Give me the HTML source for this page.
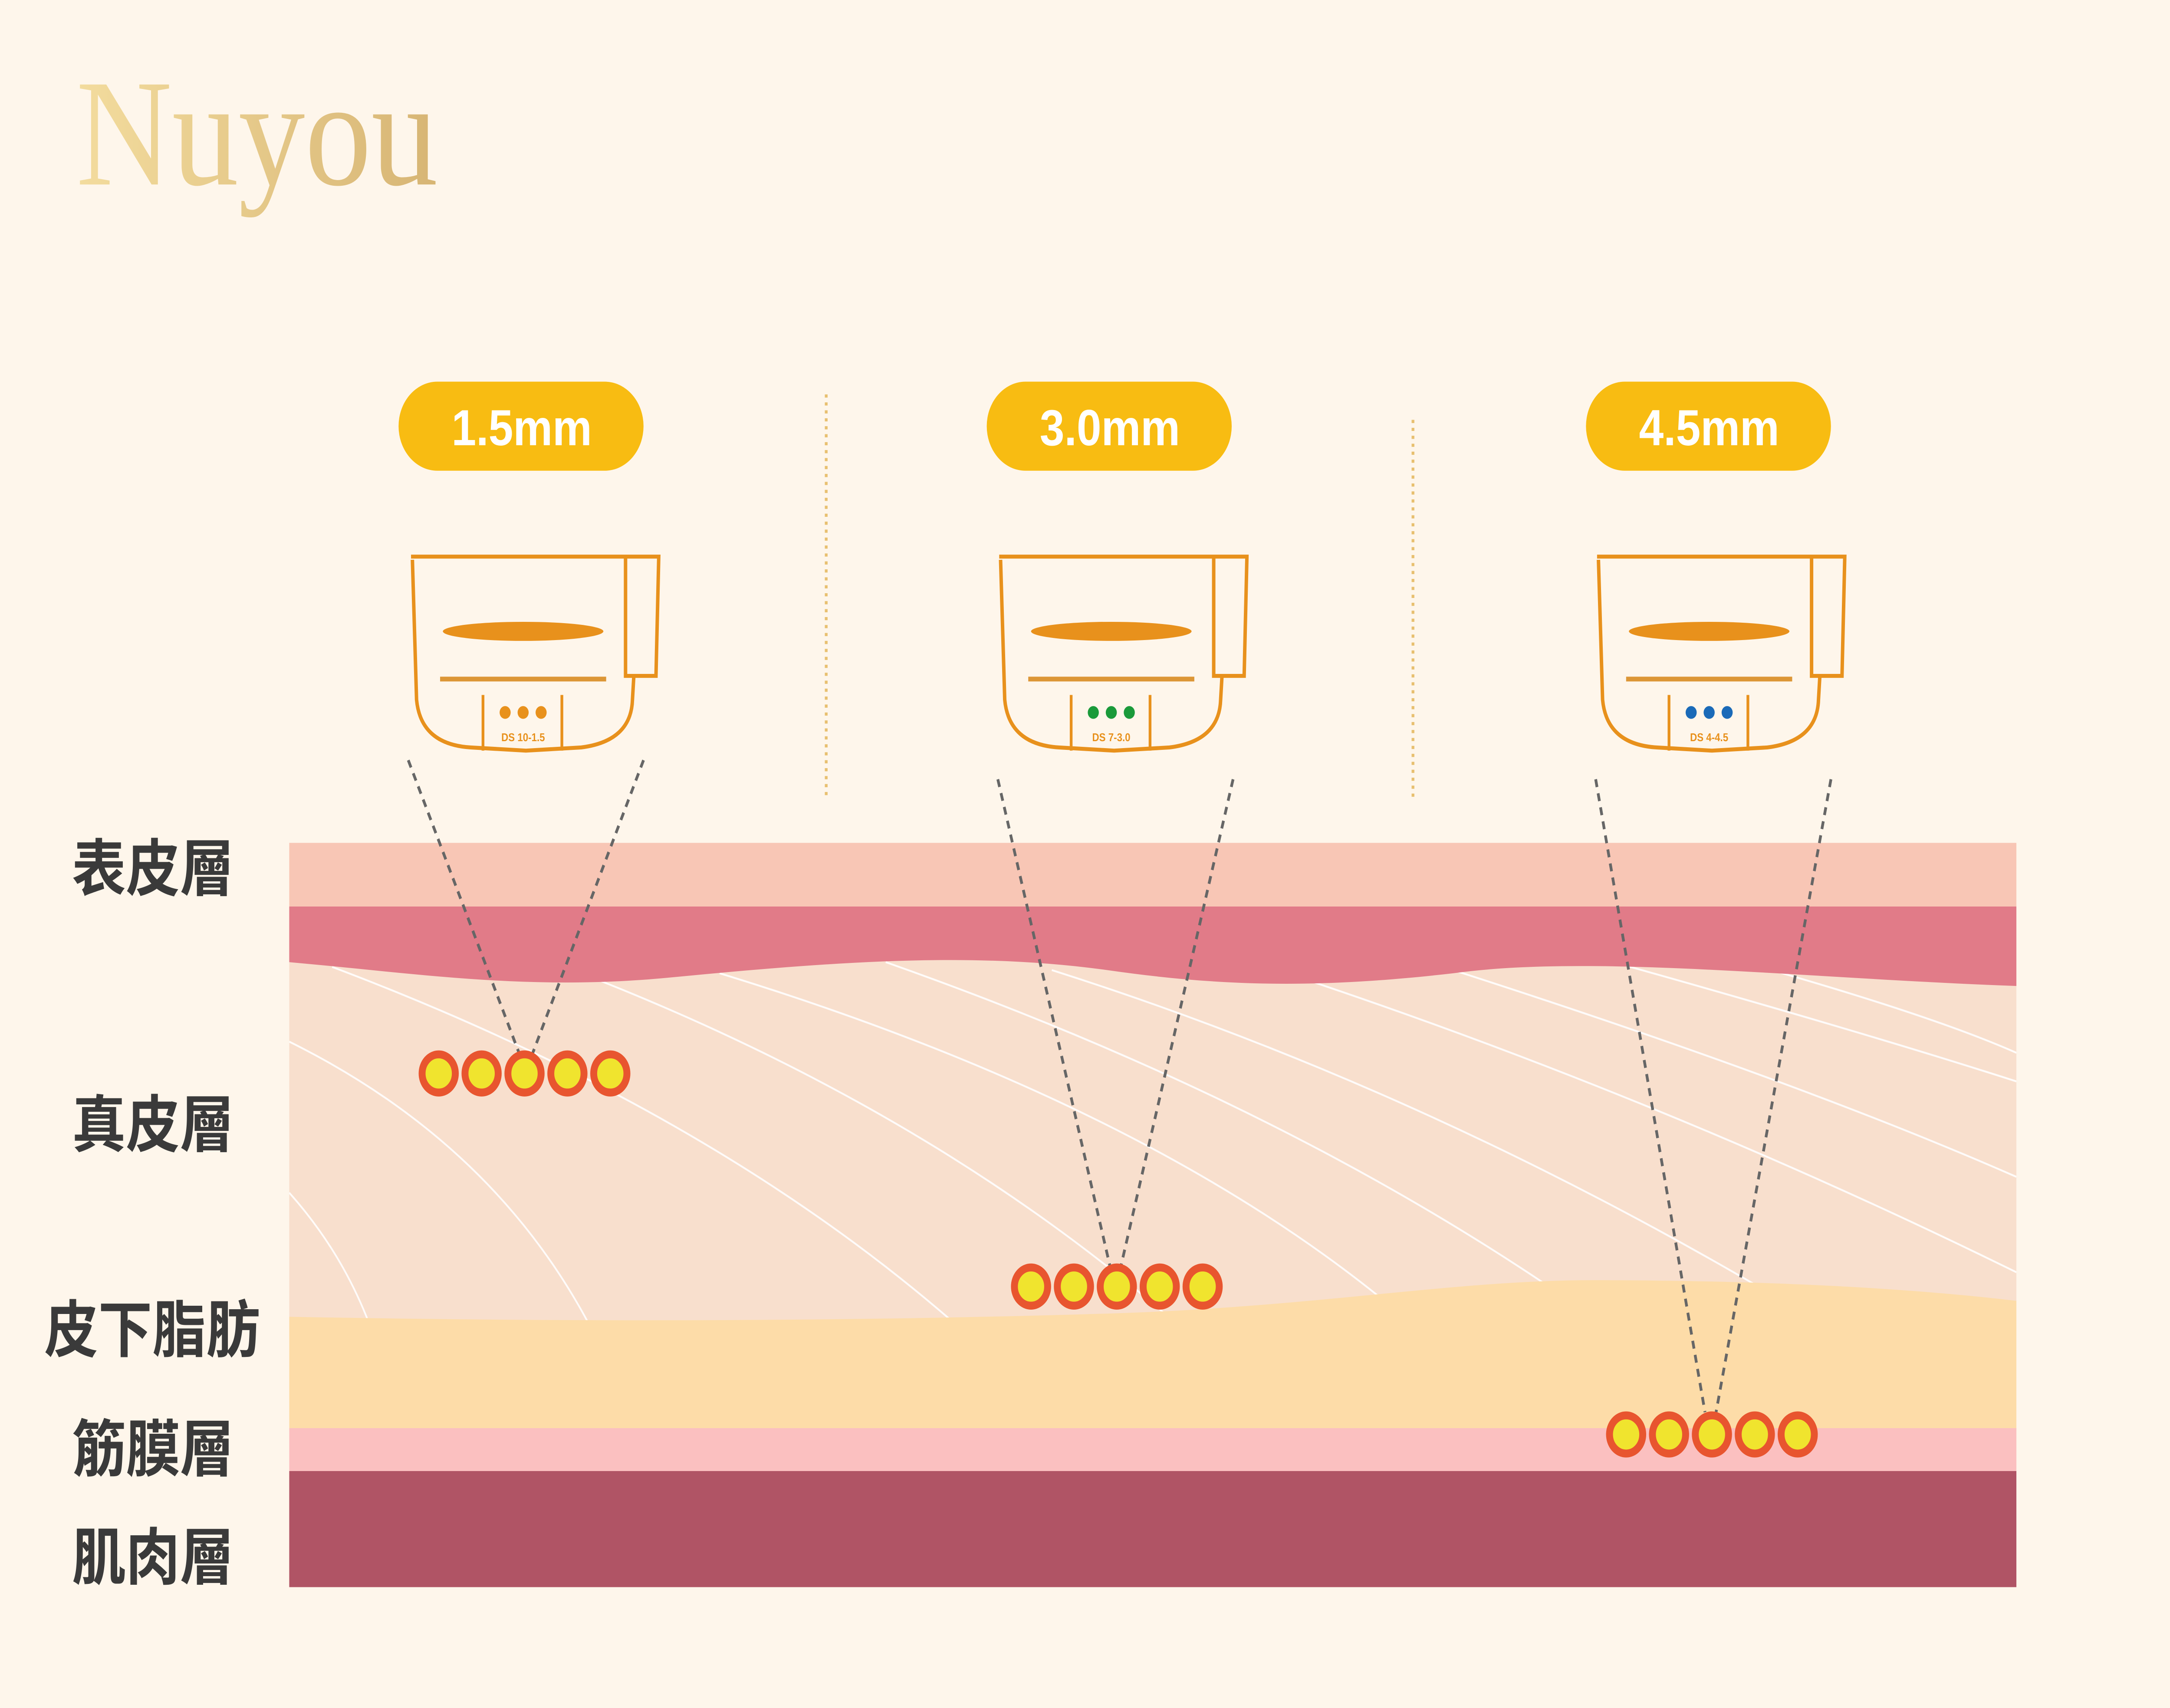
<!DOCTYPE html>
<html><head><meta charset="utf-8"><style>
html,body{margin:0;padding:0;background:#fef6eb;width:100%;height:100%;overflow:hidden}
svg{display:block;position:fixed;left:0;top:0;width:100vw;height:100vh}
</style></head>
<body>
<svg viewBox="0 0 1568 1074" preserveAspectRatio="none" xmlns="http://www.w3.org/2000/svg">
<defs>
<linearGradient id="g" x1="0" x2="1"><stop offset="0" stop-color="#f3dc9e"/><stop offset="1" stop-color="#d7b574"/></linearGradient>
<clipPath id="derm"><rect x="209" y="600" width="1248" height="240"/></clipPath>
<g id="dev" fill="none" stroke="#e8911c" stroke-width="2.5">
<path d="M297,350 H476 L474,425 H452 V350"/>
<path d="M298,352 L301,440 Q304,468 340,470 L380,472 L420,470 Q456,466 457,440 L458,425"/>
<ellipse cx="378" cy="397" rx="58" ry="6" fill="#e8911c" stroke="none"/>
<line x1="318" y1="427" x2="438" y2="427" stroke="#dc9636" stroke-width="3"/>
<line x1="349" y1="437" x2="349" y2="472" stroke-width="2"/>
<line x1="406" y1="437" x2="406" y2="472" stroke-width="2"/>
</g>
</defs>
<rect width="1568" height="1074" fill="#fef6eb"/>
<text x="55" y="116" font-family="Liberation Serif, serif" font-size="96" fill="url(#g)">Nuyou</text>
<g font-family="Liberation Sans, sans-serif" font-weight="bold" font-size="32" fill="#fff" text-anchor="middle">
<rect x="288" y="240" width="177" height="56" rx="28" fill="#f8bc12"/><text x="377" y="280">1.5mm</text>
<rect x="713" y="240" width="177" height="56" rx="28" fill="#f8bc12"/><text x="802" y="280">3.0mm</text>
<rect x="1146" y="240" width="177" height="56" rx="28" fill="#f8bc12"/><text x="1235" y="280">4.5mm</text>
</g>
<line x1="597" y1="248" x2="597" y2="502" stroke="#e8c070" stroke-width="2" stroke-dasharray="2 3"/>
<line x1="1021" y1="264" x2="1021" y2="502" stroke="#e8c070" stroke-width="2" stroke-dasharray="2 3"/>
<use href="#dev"/>
<use href="#dev" transform="translate(425,0)"/>
<use href="#dev" transform="translate(857,0)"/>
<g font-family="Liberation Sans, sans-serif" font-size="7" font-weight="bold" fill="#e8911c" text-anchor="middle">
<circle cx="365" cy="448" r="4" fill="#e8911c"/><circle cx="378" cy="448" r="4" fill="#e8911c"/><circle cx="391" cy="448" r="4" fill="#e8911c"/><text x="378" y="466">DS 10-1.5</text>
<circle cx="790" cy="448" r="4" fill="#1a9a3a"/><circle cx="803" cy="448" r="4" fill="#1a9a3a"/><circle cx="816" cy="448" r="4" fill="#1a9a3a"/><text x="803" y="466">DS 7-3.0</text>
<circle cx="1222" cy="448" r="4" fill="#1a6ab8"/><circle cx="1235" cy="448" r="4" fill="#1a6ab8"/><circle cx="1248" cy="448" r="4" fill="#1a6ab8"/><text x="1235" y="466">DS 4-4.5</text>
</g>
<rect x="209" y="600" width="1248" height="240" fill="#f8dfcd"/>
<g clip-path="url(#derm)" fill="none" stroke="#fff" stroke-width="1.2" opacity="0.9">
<path d="M209,655 Q360,720 430,840"/>
<path d="M209,750 Q250,790 270,840"/>
<path d="M240,608 Q520,700 700,840"/>
<path d="M420,612 Q680,700 860,840"/>
<path d="M520,612 Q850,700 1030,840"/>
<path d="M640,605 Q950,700 1170,840"/>
<path d="M760,610 Q1050,690 1330,840"/>
<path d="M930,612 Q1200,690 1457,800"/>
<path d="M1050,610 Q1300,680 1457,740"/>
<path d="M1170,606 Q1350,650 1457,680"/>
<path d="M1280,610 Q1400,640 1457,662"/>
</g>
<rect x="209" y="530" width="1248" height="40" fill="#f8c6b5"/>
<path d="M209,570 H1457 V620 C1300,615 1150,600 1050,612 C950,622 880,620 800,610 C700,598 600,605 480,615 C380,623 300,612 209,605 Z" fill="#e17b88"/>
<path d="M209,828 C450,832 650,830 800,826 C950,822 1050,805 1150,805 C1300,805 1400,812 1457,818 V900 H209 Z" fill="#fddca8"/>
<rect x="209" y="898" width="1248" height="27" fill="#fbc0c0"/>
<rect x="209" y="925" width="1248" height="73" fill="#b05465"/>
<g stroke="#666" stroke-width="2" stroke-dasharray="5 4" fill="none">
<line x1="295" y1="478" x2="375" y2="662"/><line x1="465" y1="478" x2="385" y2="662"/>
<line x1="721" y1="490" x2="802" y2="796"/><line x1="891" y1="490" x2="810" y2="796"/>
<line x1="1153" y1="490" x2="1232" y2="888"/><line x1="1323" y1="490" x2="1240" y2="888"/>
</g>
<g stroke="#e8552f" stroke-width="5" fill="#f0e42e">
<circle cx="317" cy="675" r="12"/><circle cx="348" cy="675" r="12"/><circle cx="379" cy="675" r="12"/><circle cx="410" cy="675" r="12"/><circle cx="441" cy="675" r="12"/>
<circle cx="745" cy="809" r="12"/><circle cx="776" cy="809" r="12"/><circle cx="807" cy="809" r="12"/><circle cx="838" cy="809" r="12"/><circle cx="869" cy="809" r="12"/>
<circle cx="1175" cy="902" r="12"/><circle cx="1206" cy="902" r="12"/><circle cx="1237" cy="902" r="12"/><circle cx="1268" cy="902" r="12"/><circle cx="1299" cy="902" r="12"/>
</g>
<g font-family="Liberation Sans, 'Noto Sans CJK TC', sans-serif" font-size="39" font-weight="bold" fill="#3a3a3a">
<text x="52" y="560">表皮層</text>
<text x="52" y="721">真皮層</text>
<text x="32" y="850">皮下脂肪</text>
<text x="52" y="925">筋膜層</text>
<text x="52" y="993">肌肉層</text>
</g>
</svg>
</body></html>
